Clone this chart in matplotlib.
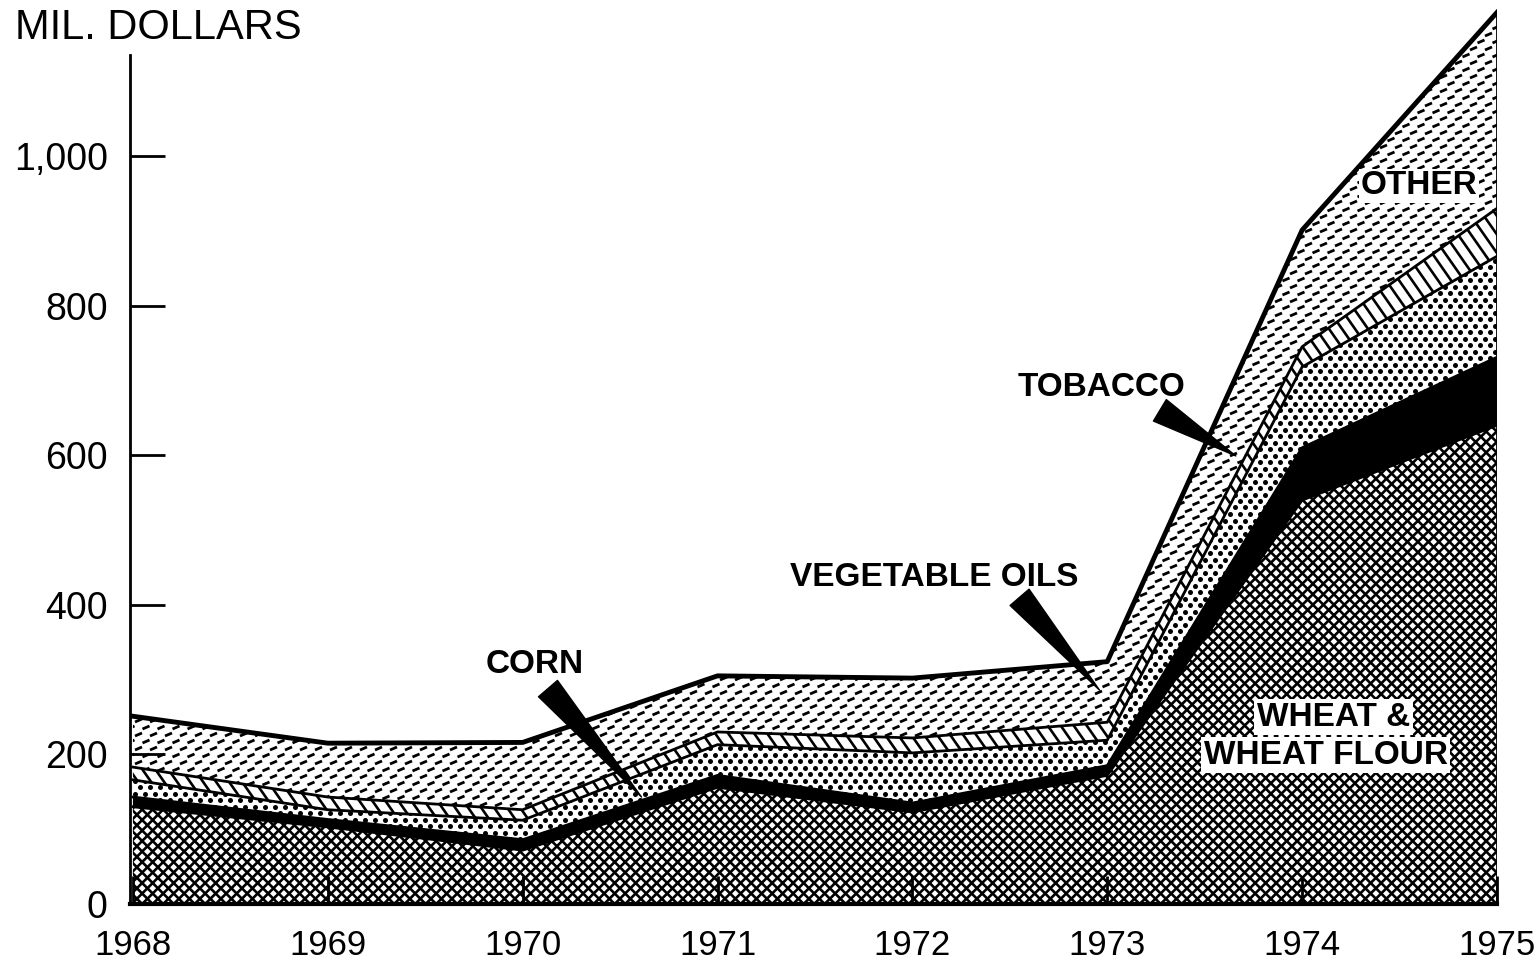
import numpy as np
import matplotlib
matplotlib.use("Agg")
import matplotlib.pyplot as plt
from matplotlib.collections import LineCollection

# values in million dollars
years = [1968, 1969, 1970, 1971, 1972, 1973, 1974, 1975]
wheat = [130, 103, 72, 156, 123, 172, 540, 640]
corn = [13, 10, 14, 16, 12, 13, 70, 91]
veg_oils = [23, 13, 26, 41, 67, 34, 108, 135]
tobacco = [17, 17, 14, 17, 20, 24, 27, 64]
other = [68, 72, 90, 75, 80, 81, 156, 262]
yticks = [0, 200, 400, 600, 800, 1000]
ytick_labels = ["0", "200", "400", "600", "800", "1,000"]

plt.rcParams["font.family"] = ["Liberation Sans", "DejaVu Sans"]

fig = plt.figure(figsize=(15.36, 9.65), dpi=100)
ymax = 1205; x0 = 1967.985
ax = fig.add_axes([130/1536, 61/965, (1497-130)/1536, ymax*0.748/965])
ax.set_xlim(x0, 1975); ax.set_ylim(0, ymax)

x = np.array(years, float)
tops = np.cumsum([wheat, corn, veg_oils, tobacco, other], axis=0)
bots = np.vstack([np.zeros(len(x)), tops[:-1]])

W = fig.get_figwidth()*fig.dpi*ax.get_position().width
H = fig.get_figheight()*fig.dpi*ax.get_position().height
xpp = (1975-x0)/W; ypp = ymax/H
def d(px, py): return (x0+px*xpp, py*ypp)

def clip(art, poly):
    art.set_clip_path(poly.get_paths()[0], ax.transData)
    ax.add_collection(art)

polys = [ax.fill_between(x, bots[i], tops[i], facecolor="white", lw=0) for i in range(5)]
polys[1].set_facecolor("black")

# wheat: crosshatch
s = 10.5; segs = []
for k in np.arange(-H, W+H, s):
    segs.append([d(k, 0), d(k+H, H)])
    segs.append([d(k, 0), d(k-H, H)])
clip(LineCollection(segs, colors="black", linewidths=1.9, zorder=1.2), polys[0])

# vegetable oils: staggered dots
pts = []
for r in range(int(H/6.5)+2):
    for c in range(int(W/10)+2):
        pts.append(d(c*10 + (r % 2)*5, r*6.5))
pts = np.array(pts)
sc = ax.scatter(pts[:, 0], pts[:, 1], s=13, c="black", lw=0, zorder=1.2)
sc.set_clip_path(polys[2].get_paths()[0], ax.transData)

# tobacco: steep back-slash stripes
segs = []
for k in np.arange(-H, W+H, 13):
    segs.append([d(k, H), d(k+H*0.7, 0)])
clip(LineCollection(segs, colors="black", linewidths=1.9, zorder=1.2), polys[3])

# other: short slanted dashes
segs = []
for r in range(int(H/7)+2):
    for c in range(int(W/15)+2):
        px = c*15 + (r % 2)*7.5 - 10; py = r*7
        segs.append([d(px, py), d(px+7, py+3)])
clip(LineCollection(segs, colors="black", linewidths=2.0, zorder=1.2), polys[4])

for i, t in enumerate(tops):
    ax.plot(x, t, color="black", lw=3.5 if i == 4 else 2, zorder=2)
ax.vlines(x[-1], 0, tops[-1][-1], color="black", lw=2)

# labels and wedge pointers
kw = dict(fontsize=24, fontweight="bold", ha="center", va="center")
ax.text(1970.06, 320, "CORN", **kw)
ax.text(1972.11, 437, "VEGETABLE OILS", **kw)
ax.text(1972.97, 691, "TOBACCO", **kw)
ax.text(1974.60, 960, "OTHER", bbox=dict(fc="white", ec="none", pad=1), **kw)
ax.text(1974.16, 250, "WHEAT &", bbox=dict(fc="white", ec="none", pad=2), **kw)
ax.text(1974.12, 199, "WHEAT FLOUR", bbox=dict(fc="white", ec="none", pad=2), **kw)
wedge = dict(arrowstyle="wedge,tail_width=0.9", fc="black", ec="black", shrinkA=0, shrinkB=0, mutation_scale=20)
ax.annotate("", xy=(1970.61, 143), xytext=(1970.13, 288), arrowprops=wedge)
ax.annotate("", xy=(1972.96, 286), xytext=(1972.55, 410), arrowprops=wedge)
ax.annotate("", xy=(1973.66, 599), xytext=(1973.27, 660), arrowprops=wedge)

ax.set_xticks(years); ax.set_xticklabels([str(y) for y in years])
ax.set_yticks(yticks); ax.set_yticklabels(ytick_labels)
ax.tick_params(axis="x", direction="in", length=20, width=2, labelsize=25, pad=18)
ax.tick_params(axis="y", direction="in", length=25, width=2, labelsize=27, pad=16)
for sp in ["top", "right"]: ax.spines[sp].set_visible(False)
ax.spines["left"].set_bounds(0, 1135); ax.spines["left"].set_linewidth(2)
ax.spines["bottom"].set_linewidth(3)

fig.text(15/1536, 1-28/965, "MIL. DOLLARS", fontsize=30, va="center", ha="left")

fig.savefig("out.png", dpi=100)
